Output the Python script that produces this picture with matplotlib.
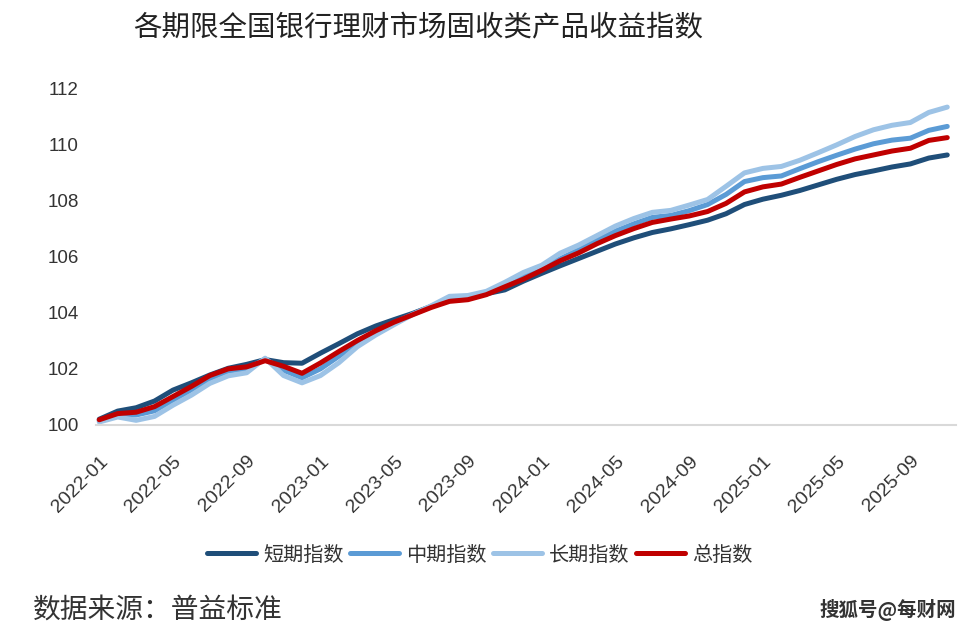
import matplotlib
matplotlib.use("Agg")
import matplotlib.pyplot as plt

plt.rcParams['font.family'] = ['Noto Sans CJK SC', 'DejaVu Sans']

# months 2022-01 .. 2025-11
months = [f"{y}-{m:02d}" for y in range(2022, 2026) for m in range(1, 13)][:47]

short_idx = [100.20, 100.49, 100.61, 100.85, 101.24, 101.50, 101.78, 102.02, 102.16, 102.33,
             102.22, 102.20, 102.56, 102.90, 103.25, 103.53, 103.76, 103.98, 104.23, 104.50,
             104.50, 104.68, 104.82, 105.13, 105.41, 105.68, 105.94, 106.20, 106.46, 106.68,
             106.87, 107.00, 107.15, 107.31, 107.54, 107.87, 108.06, 108.20, 108.37, 108.57,
             108.77, 108.94, 109.07, 109.21, 109.32, 109.53, 109.64]
mid_idx = [100.15, 100.35, 100.35, 100.50, 100.88, 101.25, 101.65, 101.92, 102.00, 102.35,
           101.95, 101.68, 102.00, 102.45, 102.92, 103.30, 103.64, 103.95, 104.22, 104.52,
           104.55, 104.72, 105.02, 105.34, 105.59, 105.93, 106.25, 106.59, 106.92, 107.18,
           107.41, 107.48, 107.65, 107.87, 108.23, 108.69, 108.83, 108.89, 109.15, 109.40,
           109.63, 109.85, 110.04, 110.17, 110.24, 110.52, 110.66]
long_idx = [100.10, 100.28, 100.16, 100.30, 100.70, 101.06, 101.48, 101.75, 101.86, 102.38,
            101.76, 101.50, 101.76, 102.22, 102.79, 103.21, 103.58, 103.94, 104.25, 104.59,
            104.62, 104.77, 105.09, 105.44, 105.70, 106.13, 106.42, 106.76, 107.10, 107.37,
            107.59, 107.66, 107.85, 108.05, 108.52, 109.00, 109.16, 109.23, 109.45, 109.72,
            110.00, 110.30, 110.54, 110.70, 110.80, 111.16, 111.35]
total_idx = [100.18, 100.40, 100.45, 100.65, 101.01, 101.37, 101.76, 102.00, 102.07, 102.29,
             102.09, 101.84, 102.21, 102.62, 103.01, 103.36, 103.67, 103.93, 104.19, 104.41,
             104.47, 104.65, 104.93, 105.20, 105.52, 105.86, 106.14, 106.47, 106.76, 107.01,
             107.23, 107.35, 107.46, 107.62, 107.91, 108.32, 108.50, 108.60, 108.84, 109.07,
             109.30, 109.50, 109.64, 109.78, 109.88, 110.16, 110.26]

names = ['短期指数', '中期指数', '长期指数', '总指数']
colors = ['#1f4e79', '#5b9bd5', '#9dc3e6', '#c00000']
series = [short_idx, mid_idx, long_idx, total_idx]

fig = plt.figure(figsize=(9.75, 6.35), dpi=100)
ax = fig.add_axes([0.098, 0.331, 0.883, 0.529])

x = list(range(len(months)))
for vals, name, c in zip(series, names, colors):
    ax.plot(x, vals, color=c, lw=3.6, label=name, solid_capstyle='round', solid_joinstyle='round')

ax.set_xlim(-0.2, 46.5)
ax.set_ylim(100, 112)
ax.set_yticks([100, 102, 104, 106, 108, 110, 112])
ax.set_xticks(x[::4])
ax.set_xticklabels(months[::4], rotation=45, ha='right', va='top', rotation_mode='anchor',
                   family='Liberation Sans', fontsize=14, color='#333333')
for lab in ax.get_yticklabels():
    lab.set_family('Liberation Sans')
    lab.set_fontsize(13.5)
    lab.set_color('#333333')

for s in ['top', 'right', 'left']:
    ax.spines[s].set_visible(False)
ax.spines['bottom'].set_color('#d9d9d9')
ax.spines['bottom'].set_linewidth(1.5)
ax.tick_params(axis='both', length=0)
ax.tick_params(axis='y', pad=12)
ax.tick_params(axis='x', pad=20)

fig.text(0.429, 0.955, '各期限全国银行理财市场固收类产品收益指数', ha='center', va='center',
         fontsize=20.5, color='#222222')

fig.legend(loc='center', bbox_to_anchor=(0.492, 0.126), ncol=4, frameon=False,
           fontsize=14.5, handlelength=2.45, handletextpad=0.36, columnspacing=0.3,
           labelcolor='#333333')

fig.text(0.034, 0.04, '数据来源：普益标准', ha='left', va='center', fontsize=20, color='#333333')
fig.text(0.981, 0.04, '搜狐号@每财网', ha='right', va='center', fontsize=14, fontweight='bold',
         color='#333333')

fig.savefig('out.png', dpi=100)
